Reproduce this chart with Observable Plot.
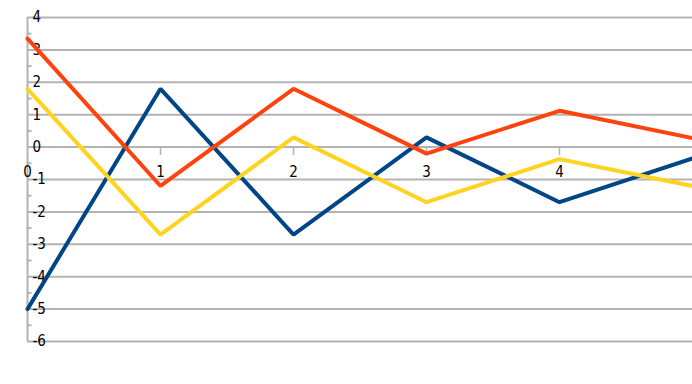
<!DOCTYPE html>
<html><head><meta charset="utf-8">
<script src="https://cdn.jsdelivr.net/npm/d3@7"></script>
<script src="https://cdn.jsdelivr.net/npm/@observablehq/plot@0.6"></script>
<style>body{margin:0;background:#fff}</style>
</head><body><div id="chart"></div>
<script>
const xs = [0, 1, 2, 3, 4, 5];
const blue = [-5, 1.8, -2.7, 0.3, -1.7, -0.35];
const red = [3.35, -1.2, 1.8, -0.2, 1.12, 0.28];
const yellow = [1.8, -2.7, 0.3, -1.7, -0.37, -1.2];
const yTicks = [-6, -5, -4, -3, -2, -1, 0, 1, 2, 3, 4];
const yMinor = [-5.5, -4.5, -3.5, -2.5, -1.5, -0.5, 0.5, 1.5, 2.5, 3.5];
const xTicks = [1, 2, 3, 4];
const xLabels = [0, 1, 2, 3, 4];

const series = [
  {name: "blue", values: blue, color: "#004586"},
  {name: "red", values: red, color: "#ff420e"},
  {name: "yellow", values: yellow, color: "#ffd320"}
];
const rows = series.flatMap(s => xs.map((x, i) => ({series: s.name, x, y: s.values[i], color: s.color})));

const grey = "#b3b3b3";
const font = "'Liberation Sans Narrow', 'DejaVu Sans Condensed', sans-serif";

// vertical tick symbol pointing down from the zero line
const downTick = {draw(context) { context.moveTo(0, 0); context.lineTo(0, 8); }};
// short horizontal tick pointing right from the y axis
const rightTick = {draw(context) { context.moveTo(0, 0); context.lineTo(4, 0); }};

const chart = Plot.plot({
  width: 692,
  height: 384,
  marginLeft: 27,
  marginRight: 0,
  marginTop: 17,
  marginBottom: 43,
  style: {fontFamily: font, fontSize: "15px", color: "#000", background: "#fff"},
  x: {domain: [0, 5], axis: null},
  y: {domain: [-6, 4], axis: null},
  marks: [
    Plot.ruleY(yTicks, {stroke: grey, strokeWidth: 2}),
    Plot.ruleX([0], {y1: -6, y2: 4, stroke: grey, strokeWidth: 2}),
    Plot.dot(yMinor, {x: 0, y: d => d, symbol: rightTick, fill: "none", stroke: grey, strokeWidth: 2}),
    Plot.dot(xTicks, {x: d => d, y: 0, symbol: downTick, fill: "none", stroke: grey, strokeWidth: 1.5}),
    Plot.text(yTicks, {x: 0, y: d => d, text: d => String(d), textAnchor: "start", dx: 5, fill: "#000"}),
    Plot.text(xLabels, {x: d => d, y: 0, text: d => String(d), dy: 25, fill: "#000"}),
    Plot.line(rows, {x: "x", y: "y", z: "series", stroke: "color", strokeWidth: 4, strokeLinejoin: "miter"})
  ]
});
document.getElementById("chart").appendChild(chart);
</script>
</body></html>
